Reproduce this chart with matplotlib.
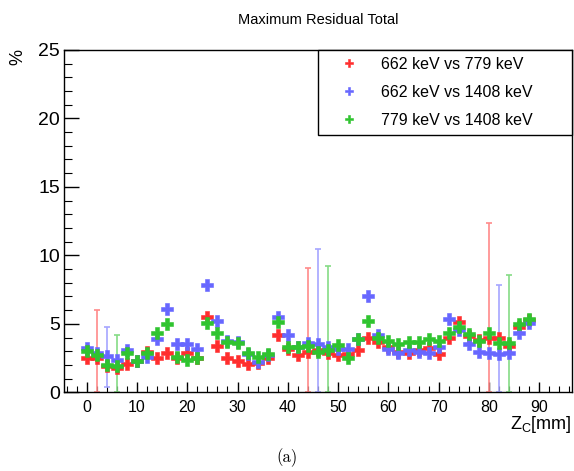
import matplotlib
matplotlib.use("Agg")
import matplotlib.pyplot as plt
from matplotlib.ticker import MultipleLocator

# z position of the scan (mm)
zc = [0, 2, 4, 6, 8, 10, 12, 14, 16, 18, 20, 22, 24, 26, 28, 30, 32, 34, 36, 38,
      40, 42, 44, 46, 48, 50, 52, 54, 56, 58, 60, 62, 64, 66, 68, 70, 72, 74, 76,
      78, 80, 82, 84, 86, 88]

# maximum residual (%)
res_662_779 = [2.5, 2.5, 1.9, 1.75, 2.1, 2.3, 2.96, 2.5, 2.85, 2.5, 2.85, 2.5, 5.5,
               3.38, 2.48, 2.3, 2.06, 2.15, 2.5, 4.18, 3.14, 2.72, 2.96, 3.08, 2.9,
               2.72, 2.8, 3.08, 4.0, 3.7, 3.3, 2.96, 2.9, 3.08, 3.2, 2.8, 3.94, 5.15,
               4.1, 3.8, 3.94, 3.94, 3.4, 4.8, 5.3]
res_662_1408 = [3.2, 2.9, 2.65, 2.36, 3.1, 2.3, 2.6, 3.87, 6.1, 3.5, 3.5, 3.16, 7.83,
                5.23, 3.77, 3.65, 2.8, 2.23, 2.7, 5.52, 4.18, 3.33, 3.62, 3.52, 3.28,
                3.14, 3.14, 3.9, 7.03, 4.18, 3.14, 2.9, 3.08, 2.96, 2.9, 3.28, 5.33,
                4.55, 3.52, 2.96, 2.9, 2.77, 2.85, 4.3, 5.08]
res_779_1408 = [3.0, 2.7, 2.0, 1.92, 2.85, 2.3, 2.85, 4.3, 4.95, 2.6, 2.36, 2.5, 5.08,
                4.3, 3.7, 3.62, 2.85, 2.55, 2.8, 5.15, 3.28, 3.3, 3.38, 2.96, 3.08,
                3.45, 2.5, 3.87, 5.23, 3.94, 3.77, 3.52, 3.7, 3.7, 3.87, 3.77, 4.35,
                4.79, 4.26, 3.74, 4.3, 3.62, 3.62, 4.96, 5.33]

# the few points that carry error bars: z, lower end, upper end
err_662_779 = ([2, 44, 80], [0.0, 0.0, 0.0], [6.0, 9.05, 12.38])
err_662_1408 = ([4, 46, 82], [0.36, 0.0, 0.0], [4.8, 10.44, 7.83])
err_779_1408 = ([6, 48, 84], [0.0, 0.0, 0.0], [4.18, 9.24, 8.56])

labels = ["662 keV vs 779 keV", "662 keV vs 1408 keV", "779 keV vs 1408 keV"]
colors = ["#ff2e2e", "#6767ff", "#2fc42f"]
err_colors = ["#ff8a8a", "#a6a6ff", "#85db85"]

plt.rcParams["font.family"] = ["Liberation Sans", "DejaVu Sans"]
plt.rcParams["mathtext.fontset"] = "custom"
plt.rcParams["mathtext.rm"] = "Liberation Sans"
plt.rcParams["mathtext.it"] = "Liberation Sans"

fig = plt.figure(figsize=(5.74, 4.71), dpi=100)
ax = fig.add_axes([64 / 574, (471 - 392.3) / 471, (572 - 64) / 574, (392.3 - 49.8) / 471])

series = [res_662_779, res_662_1408, res_779_1408]
errs = [err_662_779, err_662_1408, err_779_1408]
handles = []
for vals, (ex, lo, hi), ec in zip(series, errs, err_colors):
    ey = [vals[zc.index(z)] for z in ex]
    ax.errorbar(ex, ey, yerr=[[y - l for y, l in zip(ey, lo)], [h - y for y, h in zip(ey, hi)]],
                fmt="none", ecolor=ec, elinewidth=1.2, capsize=2.5, capthick=1.2, zorder=2)
for vals, c, lab in zip(series, colors, labels):
    h, = ax.plot(zc, vals, ls="none", marker="P", ms=8, mfc=c, mec=c, mew=0.4,
                 label=lab, zorder=3)
    handles.append(h)

ax.set_xlim(-4.5, 96.5)
ax.set_ylim(0, 25)
ax.xaxis.set_major_locator(MultipleLocator(10))
ax.xaxis.set_minor_locator(MultipleLocator(2))
ax.yaxis.set_major_locator(MultipleLocator(5))
ax.yaxis.set_minor_locator(MultipleLocator(1))
ax.tick_params(axis="both", which="both", direction="in", top=False, right=False, color="black")
ax.tick_params(axis="x", which="major", length=7, width=1, labelsize=11.5, pad=5.5)
ax.tick_params(axis="x", which="minor", length=4, width=0.8)
ax.tick_params(axis="y", which="major", length=11, width=1, labelsize=14, pad=3)
ax.tick_params(axis="y", which="minor", length=5.5, width=0.8)
for s in ax.spines.values():
    s.set_linewidth(1)

leg = ax.legend(handles=handles, loc="upper left",
                bbox_to_anchor=((318 - 64) / 508, 1.0, (572 - 318) / 508, 0.0),
                mode="expand", borderaxespad=0, fancybox=False, edgecolor="black",
                framealpha=1, fontsize=11.5, numpoints=1, borderpad=0.45,
                handlelength=3.0, handletextpad=0.5, labelspacing=0.8)
leg.get_frame().set_linewidth(1)
for h in leg.legend_handles:
    h.set_markersize(5.5)

fig.text(318 / 574, 1 - 20 / 471, "Maximum Residual Total", ha="center", va="center", fontsize=10.5)
fig.text(18 / 574, 1 - 57 / 471, "%", rotation=90, ha="center", va="center", fontsize=13)
fig.text(572 / 574, 1 - 429 / 471, r"Z$_{\rm C}$[mm]", ha="right", va="baseline", fontsize=13)
fig.text(287 / 574, 1 - 458 / 471, "(a)", ha="center", va="center", fontsize=12, family="cmr10")

fig.savefig("out.png", dpi=100)
